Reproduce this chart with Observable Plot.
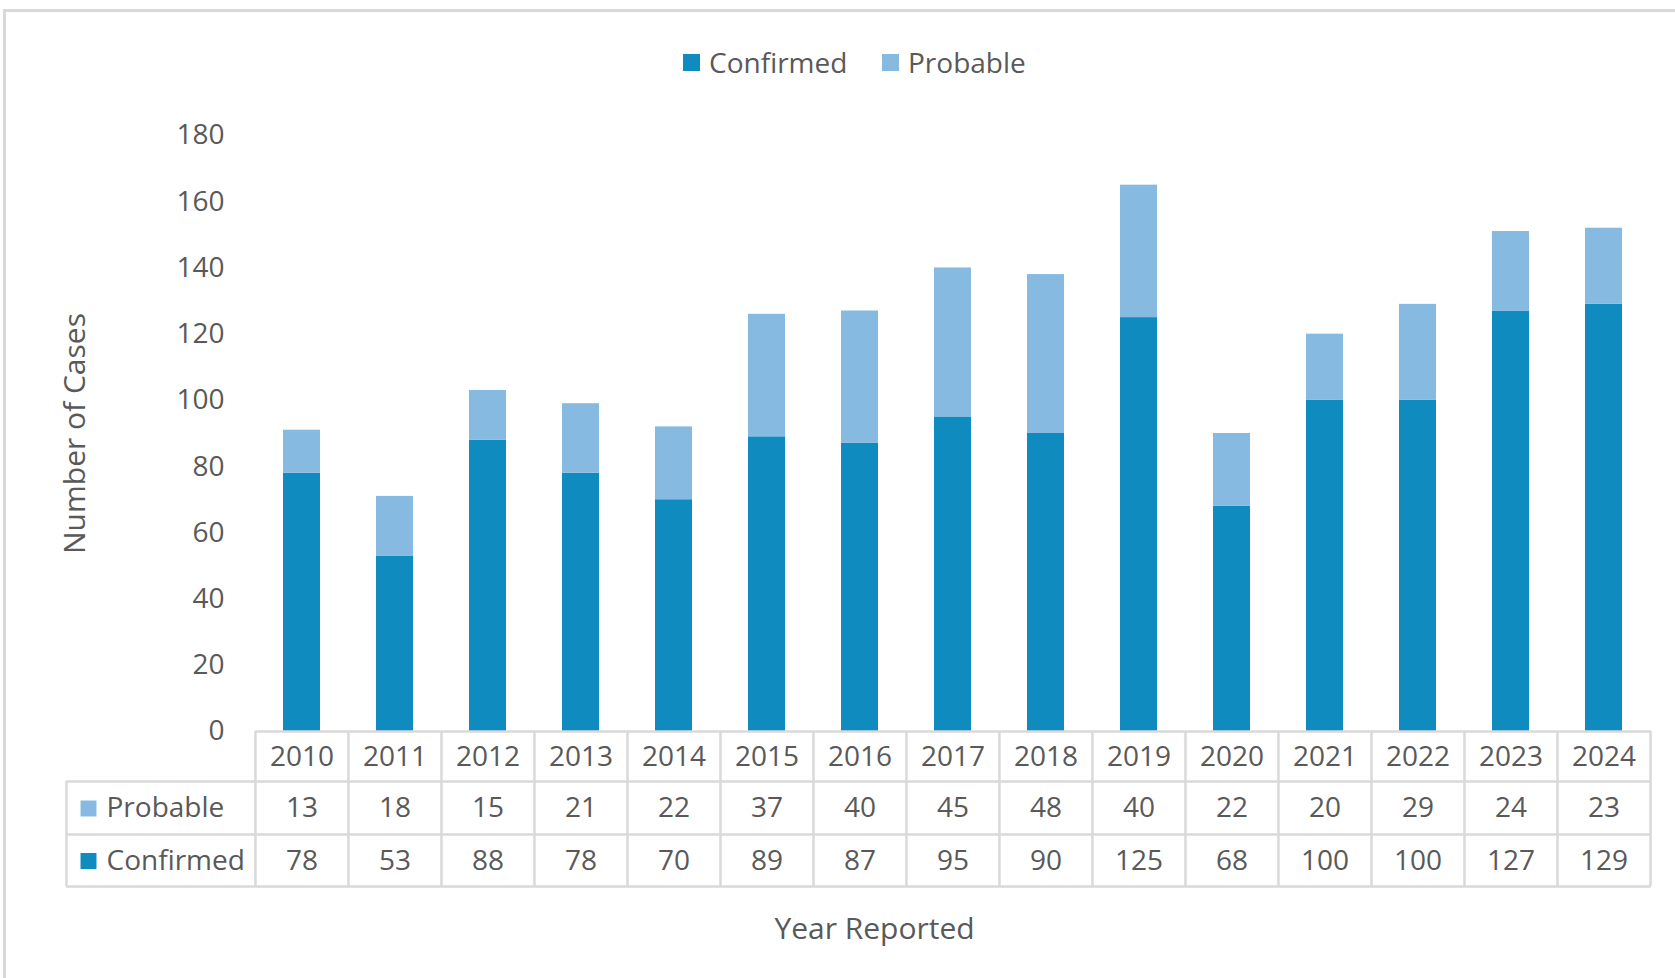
<!DOCTYPE html>
<html>
<head>
<meta charset="utf-8">
<script src="https://cdn.jsdelivr.net/npm/d3@7"></script>
<script src="https://cdn.jsdelivr.net/npm/@observablehq/plot@0.6"></script>
<style>
  html, body { margin: 0; padding: 0; background: #fff; overflow: hidden; }
  body { width: 1675px; height: 978px; position: relative; font-family: "Open Sans", sans-serif; color: #595959; }
  #frame { position: absolute; left: 3px; top: 9px; width: 1800px; height: 1100px; border-left: 3px solid #d9d9d9; border-top: 3px solid #d9d9d9; }
  #legend { position: absolute; left: 0; top: 0; width: 1675px; height: 100px; }
  .li { position: absolute; top: 44px; font-size: 28px; line-height: 36px; white-space: nowrap; }
  .sw { display: inline-block; width: 17px; height: 17px; vertical-align: 2px; margin-right: 9px; }
  #chart { position: absolute; left: 0; top: 100px; }
</style>
</head>
<body>
<div id="frame"></div>
<div id="legend"></div>
<div id="chart"></div>
<script>
const years = ["2010","2011","2012","2013","2014","2015","2016","2017","2018","2019","2020","2021","2022","2023","2024"];
const confirmed = [78,53,88,78,70,89,87,95,90,125,68,100,100,127,129];
const probable = [13,18,15,21,22,37,40,45,48,40,22,20,29,24,23];
const seriesNames = ["Confirmed","Probable"];
const seriesColors = ["#108BBF","#86BAE0"];
const yTicks = [0,20,40,60,80,100,120,140,160,180];
const yLabel = "Number of Cases";
const xLabel = "Year Reported";

// long-format table for stacking
const long = [];
years.forEach((y, i) => {
  long.push({year: y, series: "Confirmed", value: confirmed[i]});
  long.push({year: y, series: "Probable", value: probable[i]});
});
const rows = years.map((y, i) => ({year: y, confirmed: confirmed[i], probable: probable[i]}));

// legend
const legend = document.getElementById("legend");
[["Confirmed", 683], ["Probable", 882]].forEach(([name, left]) => {
  const el = document.createElement("div");
  el.className = "li";
  el.style.left = left + "px";
  const sw = document.createElement("span");
  sw.className = "sw";
  sw.style.background = seriesColors[seriesNames.indexOf(name)];
  el.appendChild(sw);
  el.appendChild(document.createTextNode(name));
  legend.appendChild(el);
});

// layout
const W = 1675, H = 878, mt = 35, mb = 247, ml = 255, mr = 24;
const frameH = H - mt - mb;
const step = (W - ml - mr) / years.length;
const labelColW = 189;
const r1 = 50, r2 = 103, r3 = 155; // table row boundaries below the axis
const grid = "#d9d9d9";

const plot = Plot.plot({
  width: W, height: H,
  marginTop: mt, marginBottom: mb, marginLeft: ml, marginRight: mr,
  style: {fontFamily: "Open Sans, sans-serif", fontSize: "28px", color: "#595959", background: "transparent", overflow: "visible"},
  x: {type: "band", domain: years, paddingInner: 0.6, paddingOuter: 0.3, axis: null},
  y: {domain: [0, 180], ticks: yTicks, tickSize: 0, tickPadding: 31, label: null},
  color: {domain: seriesNames, range: seriesColors},
  marks: [
    Plot.barY(long, {x: "year", y: "value", fill: "series", order: seriesNames}),
    // table horizontal lines
    Plot.ruleY([0], {stroke: grid, strokeWidth: 2.5}),
    Plot.ruleY([0], {dy: r1, insetLeft: -labelColW, stroke: grid, strokeWidth: 2.5}),
    Plot.ruleY([0], {dy: r2, insetLeft: -labelColW, stroke: grid, strokeWidth: 2.5}),
    Plot.ruleY([0], {dy: r3, insetLeft: -labelColW, stroke: grid, strokeWidth: 2.5}),
    // table vertical lines
    Plot.ruleX(years, {x: d => d, dx: -step / 2, insetTop: frameH, insetBottom: -r3, stroke: grid, strokeWidth: 2.5}),
    Plot.ruleX([years[years.length - 1]], {x: d => d, dx: step / 2, insetTop: frameH, insetBottom: -r3, stroke: grid, strokeWidth: 2.5}),
    Plot.ruleX([years[0]], {x: d => d, dx: -step / 2 - labelColW, insetTop: frameH + r1, insetBottom: -r3, stroke: grid, strokeWidth: 2.5}),
    // table header and values
    Plot.text(years, {x: d => d, text: d => d, frameAnchor: "bottom", dy: 34}),
    Plot.text(rows, {x: "year", text: "probable", frameAnchor: "bottom", dy: 85.5}),
    Plot.text(rows, {x: "year", text: "confirmed", frameAnchor: "bottom", dy: 138}),
    // row labels with swatches
    Plot.dot(["Probable"], {frameAnchor: "bottom-left", dx: -167, dy: 77, symbol: "square", r: 9, fill: seriesColors[1]}),
    Plot.dot(["Confirmed"], {frameAnchor: "bottom-left", dx: -167, dy: 129.5, symbol: "square", r: 9, fill: seriesColors[0]}),
    Plot.text(["Probable"], {frameAnchor: "bottom-left", dx: -149, dy: 85.5, text: d => d, textAnchor: "start"}),
    Plot.text(["Confirmed"], {frameAnchor: "bottom-left", dx: -149, dy: 138, text: d => d, textAnchor: "start"}),
    // axis titles
    Plot.text([yLabel], {frameAnchor: "left", dx: -180, rotate: -90, text: d => d, textAnchor: "middle", fontSize: 30}),
    Plot.text([xLabel], {frameAnchor: "bottom", dx: -79, dy: 207, text: d => d, fontSize: 30})
  ]
});
document.getElementById("chart").appendChild(plot);
</script>
</body>
</html>
